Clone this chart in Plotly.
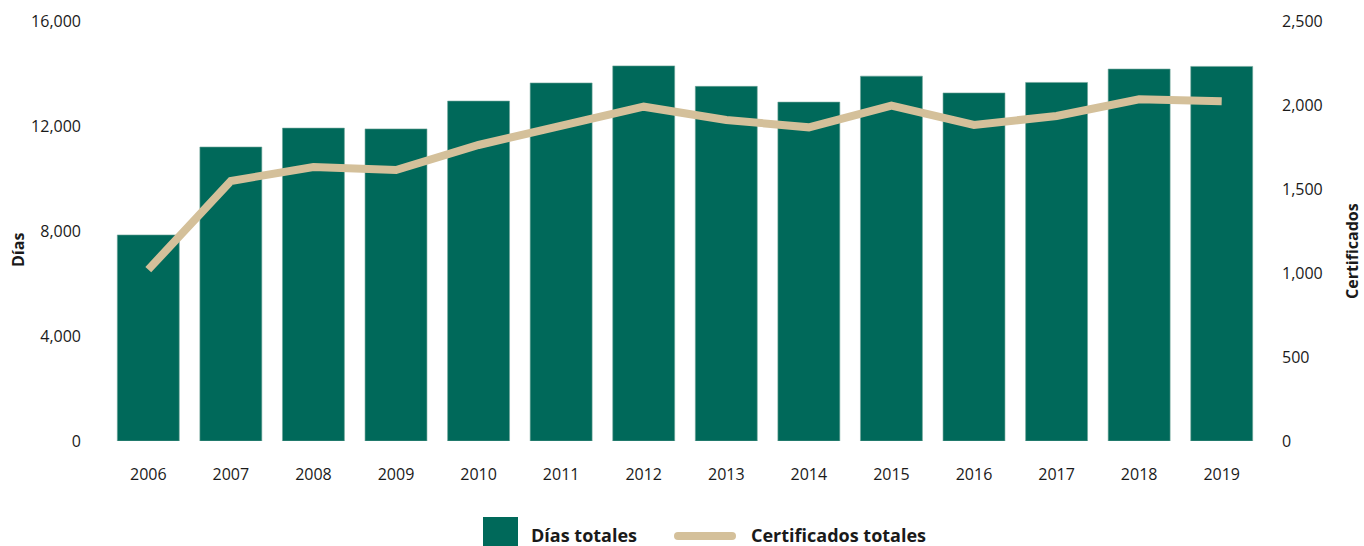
import plotly.graph_objects as go

years = ["2006", "2007", "2008", "2009", "2010", "2011", "2012",
         "2013", "2014", "2015", "2016", "2017", "2018", "2019"]
dias_totales = [7850, 11200, 11920, 11890, 12950, 13640, 14290,
                13510, 12910, 13900, 13260, 13660, 14170, 14270]
certificados_totales = [1020, 1548, 1631, 1613, 1762, 1881, 1990,
                        1911, 1867, 1996, 1881, 1935, 2034, 2022]

GREEN = "#00695A"
BEIGE = "#D4C09A"
FONT = "Open Sans"
TXT = "#1a1a1a"

# plot-area geometry (pixels) used only to place the custom legend / titles
L, R, T, B = 107, 101, 21, 105
W, H = 1364, 546
PW, PH = W - L - R, H - T - B


def px(x):
    return (x - L) / PW


def py(y):
    return (H - B - y) / PH


fig = go.Figure()
fig.add_trace(go.Bar(
    x=years, y=dias_totales, name="Días totales",
    marker=dict(color=GREEN, line=dict(color="#6fa598", width=0.6)),
    yaxis="y", showlegend=False,
))
fig.add_trace(go.Scatter(
    x=years, y=certificados_totales, name="Certificados totales",
    mode="lines", line=dict(color=BEIGE, width=8),
    yaxis="y2", showlegend=False,
))

shapes = [
    dict(type="rect", xref="paper", yref="paper",
         x0=px(483), x1=px(518), y0=py(552), y1=py(517),
         fillcolor=GREEN, line=dict(width=0)),
    dict(type="line", xref="paper", yref="paper",
         x0=px(678), x1=px(732), y0=py(536), y1=py(536),
         line=dict(color=BEIGE, width=8)),
    dict(type="circle", xref="paper", yref="paper",
         x0=px(674), x1=px(682), y0=py(540), y1=py(532),
         fillcolor=BEIGE, line=dict(width=0)),
    dict(type="circle", xref="paper", yref="paper",
         x0=px(728), x1=px(736), y0=py(540), y1=py(532),
         fillcolor=BEIGE, line=dict(width=0)),
]
annotations = [
    dict(text="<b>Días totales</b>", xref="paper", yref="paper",
         x=px(529), y=py(535), xanchor="left", yanchor="middle",
         showarrow=False, font=dict(family=FONT, size=18, color=TXT)),
    dict(text="<b>Certificados totales</b>", xref="paper", yref="paper",
         x=px(749), y=py(535), xanchor="left", yanchor="middle",
         showarrow=False, font=dict(family=FONT, size=18, color=TXT)),
    dict(text="<b>Días</b>", xref="paper", yref="paper",
         x=px(18), y=py(250), xanchor="center", yanchor="middle", textangle=-90,
         showarrow=False, font=dict(family=FONT, size=16, color=TXT)),
    dict(text="<b>Certificados</b>", xref="paper", yref="paper",
         x=px(1352), y=py(251), xanchor="center", yanchor="middle", textangle=-90,
         showarrow=False, font=dict(family=FONT, size=16, color=TXT)),
]

fig.update_layout(
    width=W, height=H,
    margin=dict(l=L, r=R, t=T, b=B, autoexpand=False),
    paper_bgcolor="white", plot_bgcolor="white",
    font=dict(family=FONT, size=16, color=TXT),
    bargap=0.25,
    showlegend=False,
    shapes=shapes,
    annotations=annotations,
    xaxis=dict(showgrid=False, showline=False, zeroline=False, automargin=False,
               ticks="", ticklabelstandoff=22,
               tickfont=dict(family=FONT, size=16, color=TXT)),
    yaxis=dict(range=[0, 16000], dtick=4000, tickformat=",", automargin=False,
               showgrid=False, zeroline=False, showline=False,
               ticks="", ticklabelstandoff=25,
               tickfont=dict(family=FONT, size=16, color=TXT)),
    yaxis2=dict(range=[0, 2500], dtick=500, tickformat=",", automargin=False,
                overlaying="y", side="right",
                showgrid=False, zeroline=False, showline=False,
                ticks="", ticklabelstandoff=18,
                tickfont=dict(family=FONT, size=16, color=TXT)),
)

fig.write_html("out.html",
               config={"displayModeBar": False},
               post_script="document.body.style.margin='0';"
                           "document.body.style.overflow='hidden';")
